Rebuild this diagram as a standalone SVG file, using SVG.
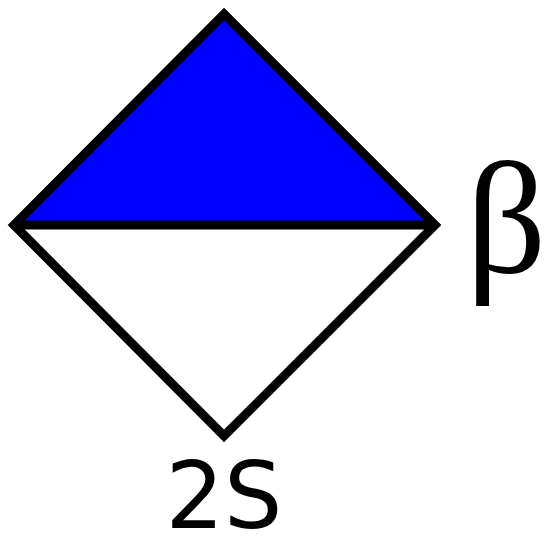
<svg xmlns="http://www.w3.org/2000/svg" width="550" height="537" viewBox="0 0 550 537">
<style>
.edge{stroke:#000;stroke-width:9;stroke-linejoin:miter;fill:none}
.lbl{fill:#000}
.greek{font-family:'Liberation Serif',serif;font-size:158px}
.sans{font-family:'DejaVu Sans','Liberation Sans',sans-serif;font-size:92px}
</style>
<rect width="550" height="537" fill="#fff"/>
<g id="diamond">
<polygon points="224,14 435,225 14,225" fill="#0000ff"/>
<polygon points="14,225 435,225 224,436" fill="#fff"/>
<polygon class="edge" points="224,14 435,225 224,436 14,225"/>
<line class="edge" x1="14" y1="225" x2="435" y2="225"/>
</g>
<g id="labels">
<text class="lbl greek" x="466" y="272">β</text>
<text class="lbl sans" x="224" y="528" text-anchor="middle">2S</text>
</g>
</svg>
